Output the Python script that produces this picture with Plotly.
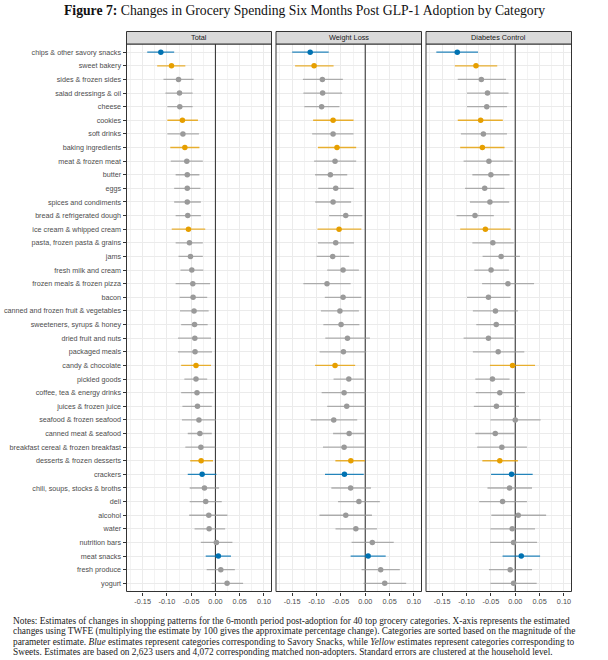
import plotly.graph_objects as go

categories = [
    "chips & other savory snacks", "sweet bakery", "sides & frozen sides", "salad dressings & oil",
    "cheese", "cookies", "soft drinks", "baking ingredients", "meat & frozen meat", "butter",
    "eggs", "spices and condiments", "bread & refrigerated dough", "ice cream & whipped cream",
    "pasta, frozen pasta & grains", "jams", "fresh milk and cream", "frozen meals & frozen pizza",
    "bacon", "canned and frozen fruit & vegetables", "sweeteners, syrups & honey",
    "dried fruit and nuts", "packaged meals", "candy & chocolate", "pickled goods",
    "coffee, tea & energy drinks", "juices & frozen juice", "seafood & frozen seafood",
    "canned meat & seafood", "breakfast cereal & frozen breakfast", "desserts & frozen desserts",
    "crackers", "chili, soups, stocks & broths", "deli", "alcohol", "water", "nutrition bars",
    "meat snacks", "fresh produce", "yogurt",
]

groups = [
    "snack", "sweet", "other", "other", "other", "sweet", "other", "sweet", "other", "other",
    "other", "other", "other", "sweet", "other", "other", "other", "other", "other", "other",
    "other", "other", "other", "sweet", "other", "other", "other", "other", "other", "other",
    "sweet", "snack", "other", "other", "other", "other", "other", "snack", "other", "other",
]

total_est = [-0.1125, -0.0905, -0.076, -0.074, -0.0734, -0.068, -0.067, -0.063, -0.059, -0.058,
             -0.058, -0.058, -0.057, -0.0556, -0.0535, -0.0514, -0.0487, -0.0466, -0.046, -0.044,
             -0.043, -0.0425, -0.042, -0.040, -0.040, -0.038, -0.037, -0.034, -0.032, -0.030,
             -0.0295, -0.0274, -0.0226, -0.020, -0.0137, -0.013, 0.002, 0.006, 0.011, 0.024]
total_lo = [-0.1405, -0.120, -0.107, -0.103, -0.099, -0.099, -0.099, -0.093, -0.092, -0.082,
            -0.085, -0.085, -0.082, -0.090, -0.082, -0.076, -0.072, -0.082, -0.074, -0.073,
            -0.0706, -0.077, -0.077, -0.0706, -0.064, -0.0706, -0.068, -0.069, -0.057, -0.062,
            -0.052, -0.057, -0.053, -0.053, -0.054, -0.043, -0.030, -0.020, -0.018, -0.008]
total_hi = [-0.085, -0.062, -0.045, -0.047, -0.047, -0.036, -0.034, -0.033, -0.026, -0.033,
            -0.031, -0.030, -0.030, -0.021, -0.026, -0.026, -0.025, -0.011, -0.017, -0.014,
            -0.016, -0.009, -0.007, -0.009, -0.017, -0.004, -0.0076, 0.001, -0.0076, 0.000,
            -0.005, 0.002, 0.0076, 0.013, 0.0247, 0.020, 0.035, 0.032, 0.040, 0.057]

wl_est = [-0.113, -0.105, -0.088, -0.0875, -0.0895, -0.066, -0.066, -0.058, -0.062, -0.0716,
          -0.0606, -0.066, -0.040, -0.0537, -0.0606, -0.0668, -0.0455, -0.0785, -0.0455, -0.052,
          -0.0496, -0.0365, -0.0448, -0.062, -0.0337, -0.0434, -0.038, -0.0647, -0.033, -0.0434,
          -0.0296, -0.0427, -0.030, -0.013, -0.040, -0.0193, 0.0145, 0.006, 0.0317, 0.040]
wl_lo = [-0.150, -0.144, -0.128, -0.127, -0.125, -0.107, -0.109, -0.097, -0.105, -0.103,
         -0.0964, -0.1026, -0.074, -0.098, -0.097, -0.100, -0.078, -0.127, -0.083, -0.091,
         -0.086, -0.082, -0.0937, -0.103, -0.065, -0.0895, -0.078, -0.112, -0.066, -0.0868,
         -0.0613, -0.0826, -0.0696, -0.0558, -0.094, -0.061, -0.028, -0.030, -0.0076, -0.0034]
wl_hi = [-0.075, -0.065, -0.046, -0.0475, -0.053, -0.024, -0.024, -0.0186, -0.0186, -0.037,
         -0.0234, -0.029, -0.006, -0.008, -0.023, -0.033, -0.013, -0.030, -0.008, -0.013,
         -0.012, 0.0096, 0.002, -0.0207, -0.003, 0.001, 0.0007, -0.0165, 0.000, 0.000,
         -0.0007, -0.003, 0.0117, 0.030, 0.0138, 0.024, 0.0585, 0.042, 0.071, 0.084]

dc_est = [-0.119, -0.0806, -0.0696, -0.057, -0.0585, -0.071, -0.0654, -0.0675, -0.054, -0.050,
          -0.0627, -0.052, -0.0826, -0.0613, -0.046, -0.029, -0.0496, -0.015, -0.055, -0.0406,
          -0.039, -0.055, -0.035, -0.0055, -0.0468, -0.0317, -0.0386, 0.000, -0.041, -0.0275,
          -0.0317, -0.0076, -0.0117, -0.026, 0.0062, -0.0062, -0.0034, 0.0124, -0.0103, -0.0034]
dc_lo = [-0.162, -0.124, -0.118, -0.099, -0.099, -0.118, -0.1116, -0.113, -0.106, -0.088,
         -0.103, -0.093, -0.1205, -0.113, -0.088, -0.067, -0.084, -0.068, -0.099, -0.087,
         -0.080, -0.106, -0.087, -0.052, -0.082, -0.081, -0.085, -0.051, -0.082, -0.078,
         -0.0675, -0.0496, -0.057, -0.074, -0.049, -0.051, -0.0517, -0.026, -0.054, -0.051]
dc_hi = [-0.0764, -0.037, -0.019, -0.0138, -0.017, -0.0255, -0.017, -0.022, -0.005, -0.0117,
         -0.022, -0.0124, -0.044, -0.0096, -0.003, 0.0096, -0.013, 0.0386, -0.0096, 0.0055,
         0.0014, -0.0034, 0.0186, 0.0406, -0.0117, 0.020, 0.0076, 0.052, 0.000, 0.024,
         0.0055, 0.0358, 0.0344, 0.024, 0.0634, 0.0406, 0.0448, 0.051, 0.0344, 0.044]

panel_titles = ["Total", "Weight Loss", "Diabetes Control"]
x_tick_vals = [-0.15, -0.10, -0.05, 0.00, 0.05, 0.10]
x_tick_text = ["-0.15", "-0.10", "-0.05", "0.00", "0.05", "0.10"]
reference_x = 0.0

title_text = "<b>Figure 7:</b> Changes in Grocery Spending Six Months Post GLP-1 Adoption by Category"
notes_lines = [
    "Notes: Estimates of changes in shopping patterns for the 6-month period post-adoption for 40 top grocery categories. X-axis represents the estimated",
    "changes using TWFE (multiplying the estimate by 100 gives the approximate percentage change). Categories are sorted based on the magnitude of the",
    "parameter estimate. <i>Blue</i> estimates represent categories corresponding to Savory Snacks, while <i>Yellow</i> estimates represent categories corresponding to",
    "Sweets. Estimates are based on 2,623 users and 4,072 corresponding matched non-adopters. Standard errors are clustered at the household level.",
]

# ---- styling ----
W, H = 608, 660
point_colors = {"other": "#9A9A9A", "sweet": "#E69F00", "snack": "#0072B2"}
bar_colors = {"other": "rgba(150,150,150,0.75)", "sweet": "rgba(230,159,0,0.8)", "snack": "rgba(0,114,178,0.85)"}
panel_px = [(126.5, 271.5), (276.0, 421.5), (426.0, 571.5)]
plot_top, plot_bot = 44.0, 591.5
strip_top = 31.5
x_range = [-0.1832, 0.1155]
y_range = [len(categories) - 0.4, -0.6]
label_font = "Liberation Sans, Arial, sans-serif"

def px2fx(px):
    return px / W

def px2fy(py):
    return 1 - py / H

fig = go.Figure()
panels = [(total_est, total_lo, total_hi), (wl_est, wl_lo, wl_hi), (dc_est, dc_lo, dc_hi)]
ypos = list(range(len(categories)))

for p, (est, lo, hi) in enumerate(panels):
    xa = "x" if p == 0 else f"x{p+1}"
    ya = "y" if p == 0 else f"y{p+1}"
    # vertical reference line at zero
    fig.add_trace(go.Scatter(
        x=[reference_x, reference_x], y=y_range, mode="lines",
        line=dict(color="#3A3A3A", width=1.1), xaxis=xa, yaxis=ya,
        showlegend=False, hoverinfo="skip", cliponaxis=True,
    ))
    for g in ["other", "sweet", "snack"]:
        idx = [i for i in range(len(categories)) if groups[i] == g]
        fig.add_trace(go.Scatter(
            x=[est[i] for i in idx],
            y=[ypos[i] for i in idx],
            mode="markers",
            marker=dict(color=point_colors[g], size=5.5, line=dict(width=0)),
            error_x=dict(type="data", symmetric=False,
                         array=[hi[i] - est[i] for i in idx],
                         arrayminus=[est[i] - lo[i] for i in idx],
                         color=bar_colors[g], thickness=1.3, width=0),
            xaxis=xa, yaxis=ya, showlegend=False, hoverinfo="skip",
        ))

layout = dict(
    width=W, height=H, margin=dict(l=0, r=0, t=0, b=0),
    paper_bgcolor="white", plot_bgcolor="white",
    font=dict(family=label_font, color="#4D4D4D", size=7.2),
    showlegend=False,
)
for p, (l, r) in enumerate(panel_px):
    xk = "xaxis" if p == 0 else f"xaxis{p+1}"
    yk = "yaxis" if p == 0 else f"yaxis{p+1}"
    layout[xk] = dict(
        domain=[px2fx(l), px2fx(r)], range=x_range, anchor="y" if p == 0 else f"y{p+1}",
        tickvals=x_tick_vals, ticktext=x_tick_text, ticks="outside", ticklen=3,
        tickcolor="#333333", tickwidth=0.8,
        tickfont=dict(size=7.3, color="#4D4D4D", family=label_font),
        showgrid=True, gridcolor="#EBEBEB", gridwidth=0.9,
        minor=dict(dtick=0.025, tick0=0, showgrid=True, gridcolor="#F3F3F3", gridwidth=0.6, ticks=""),
        zeroline=False, showline=False, automargin=False, fixedrange=True,
    )
    layout[yk] = dict(
        domain=[px2fy(plot_bot), px2fy(plot_top)], range=y_range,
        anchor="x" if p == 0 else f"x{p+1}",
        tickvals=ypos, ticktext=categories if p == 0 else None,
        showticklabels=(p == 0), ticks="outside" if p == 0 else "", ticklen=3,
        tickcolor="#333333", tickwidth=0.8,
        tickfont=dict(size=7.2, color="#4D4D4D", family=label_font),
        showgrid=True, gridcolor="#EBEBEB", gridwidth=0.9,
        zeroline=False, showline=False, automargin=False, fixedrange=True,
    )
fig.update_layout(**layout)

shapes = []
annotations = []
for p, (l, r) in enumerate(panel_px):
    # panel border
    shapes.append(dict(type="rect", xref="paper", yref="paper",
                       x0=px2fx(l), x1=px2fx(r), y0=px2fy(plot_bot), y1=px2fy(plot_top),
                       line=dict(color="#333333", width=1), fillcolor="rgba(0,0,0,0)", layer="above"))
    # strip
    shapes.append(dict(type="rect", xref="paper", yref="paper",
                       x0=px2fx(l), x1=px2fx(r), y0=px2fy(plot_top), y1=px2fy(strip_top),
                       line=dict(color="#333333", width=1), fillcolor="#D9D9D9", layer="above"))
    annotations.append(dict(text=panel_titles[p], xref="paper", yref="paper",
                            x=px2fx((l + r) / 2), y=px2fy((strip_top + plot_top) / 2),
                            xanchor="center", yanchor="middle", showarrow=False,
                            font=dict(size=7.3, color="#1A1A1A", family=label_font)))

annotations.append(dict(text=title_text, xref="paper", yref="paper", x=px2fx(304), y=px2fy(10.5),
                        xanchor="center", yanchor="middle", showarrow=False,
                        font=dict(size=13.7, color="#111111", family="Liberation Serif, serif")))
for k, line in enumerate(notes_lines):
    annotations.append(dict(text=line, xref="paper", yref="paper", x=px2fx(11), y=px2fy(621 + k * 10.4),
                            xanchor="left", yanchor="middle", showarrow=False,
                            font=dict(size=9.35, color="#222222", family="Liberation Serif, serif")))

fig.update_layout(shapes=shapes, annotations=annotations)
fig.write_html("out.html")
